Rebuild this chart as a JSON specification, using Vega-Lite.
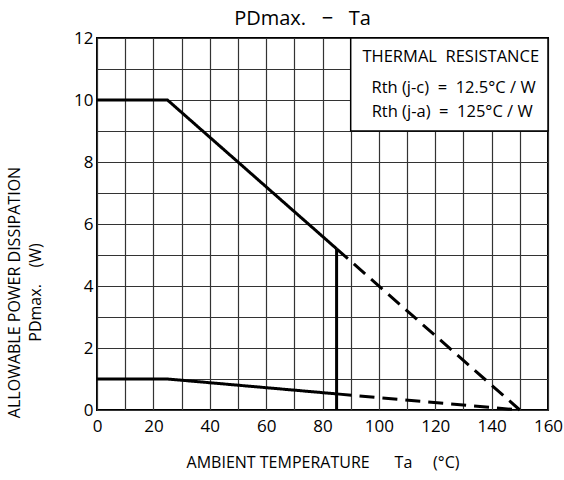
{
  "$schema": "https://vega.github.io/schema/vega-lite/v6.json",
  "autosize": {"type": "none"},
  "width": 451,
  "height": 372,
  "padding": {"left": 97, "top": 38, "right": 16, "bottom": 70},
  "background": "white",
  "config": {
    "font": "Open Sans",
    "view": {"stroke": "black", "strokeWidth": 2},
    "axis": {
      "grid": true,
      "gridColor": "#333333",
      "gridWidth": 1.2,
      "gridOpacity": 1,
      "ticks": false,
      "domain": false,
      "labelFlush": false,
      "labelFont": "Open Sans",
      "labelFontSize": 17,
      "labelColor": "black",
      "titleFont": "Open Sans",
      "titleFontWeight": "normal",
      "titleFontSize": 16,
      "titleColor": "black"
    }
  },
  "title": {
    "text": "PDmax.\u00a0\u00a0\u00a0−\u00a0\u00a0\u00a0Ta",
    "fontSize": 20,
    "fontWeight": "normal",
    "font": "Open Sans",
    "color": "black",
    "offset": 0,
    "dx": -20
  },
  "datasets": {
    "curves": [
      {"seg": "A", "kind": "solid", "ta": 0, "pd": 10},
      {"seg": "A", "kind": "solid", "ta": 25, "pd": 10},
      {"seg": "A", "kind": "solid", "ta": 85, "pd": 5.2},
      {"seg": "B", "kind": "dashed", "ta": 85, "pd": 5.2},
      {"seg": "B", "kind": "dashed", "ta": 150, "pd": 0},
      {"seg": "C", "kind": "solid", "ta": 85, "pd": 5.2},
      {"seg": "C", "kind": "solid", "ta": 85, "pd": 0},
      {"seg": "D", "kind": "solid", "ta": 0, "pd": 1},
      {"seg": "D", "kind": "solid", "ta": 25, "pd": 1},
      {"seg": "D", "kind": "solid", "ta": 85, "pd": 0.52},
      {"seg": "E", "kind": "dashed", "ta": 85, "pd": 0.52},
      {"seg": "E", "kind": "dashed", "ta": 150, "pd": 0}
    ],
    "box": [
      {"ta": 90, "ta2": 160, "pd": 9, "pd2": 12}
    ],
    "notes": [
      {"line": "THERMAL\u00a0\u00a0RESISTANCE", "ta": 125.5, "pd": 11.4},
      {"line": "Rth (j-c)\u00a0\u00a0=\u00a0\u00a012.5°C / W", "ta": 126.5, "pd": 10.4},
      {"line": "Rth (j-a)\u00a0\u00a0=\u00a0\u00a0125°C / W", "ta": 126, "pd": 9.6}
    ]
  },
  "encoding": {
    "x": {
      "field": "ta", "type": "quantitative",
      "scale": {"domain": [0, 160], "nice": false},
      "axis": {
        "grid": true,
        "values": [0,10,20,30,40,50,60,70,80,90,100,110,120,130,140,150,160],
        "labelExpr": "datum.value % 20 == 0 ? datum.label : ''",
        "labelPadding": 8,
        "title": "AMBIENT TEMPERATURE\u00a0\u00a0\u00a0\u00a0\u00a0\u00a0Ta\u00a0\u00a0\u00a0\u00a0\u00a0(°C)",
        "titlePadding": 20
      }
    },
    "y": {
      "field": "pd", "type": "quantitative",
      "scale": {"domain": [0, 12], "nice": false},
      "axis": {
        "grid": true,
        "values": [0,1,2,3,4,5,6,7,8,9,10,11,12],
        "labelExpr": "datum.value % 2 == 0 ? datum.label : ''",
        "labelPadding": 4,
        "title": ["ALLOWABLE POWER DISSIPATION", "PDmax.\u00a0\u00a0\u00a0\u00a0(W)"],
        "titleLineHeight": 21,
        "titlePadding": 30,
        "titleY": 254
      }
    }
  },
  "layer": [
    {
      "data": {"name": "curves"},
      "mark": {"type": "line", "color": "black", "strokeWidth": 3, "strokeCap": "butt"},
      "encoding": {
        "detail": {"field": "seg"},
        "strokeDash": {
          "field": "kind", "type": "nominal",
          "scale": {"domain": ["solid", "dashed"], "range": [[1, 0], [15, 8]]},
          "legend": null
        }
      }
    },
    {
      "data": {"name": "box"},
      "mark": {"type": "rect", "fill": "white", "stroke": "black", "strokeWidth": 1.5},
      "encoding": {
        "x2": {"field": "ta2"},
        "y2": {"field": "pd2"}
      }
    },
    {
      "data": {"name": "notes"},
      "mark": {"type": "text", "fontSize": 16.5, "color": "black", "align": "center", "baseline": "middle", "font": "Open Sans"},
      "encoding": {
        "text": {"field": "line"}
      }
    }
  ]
}
